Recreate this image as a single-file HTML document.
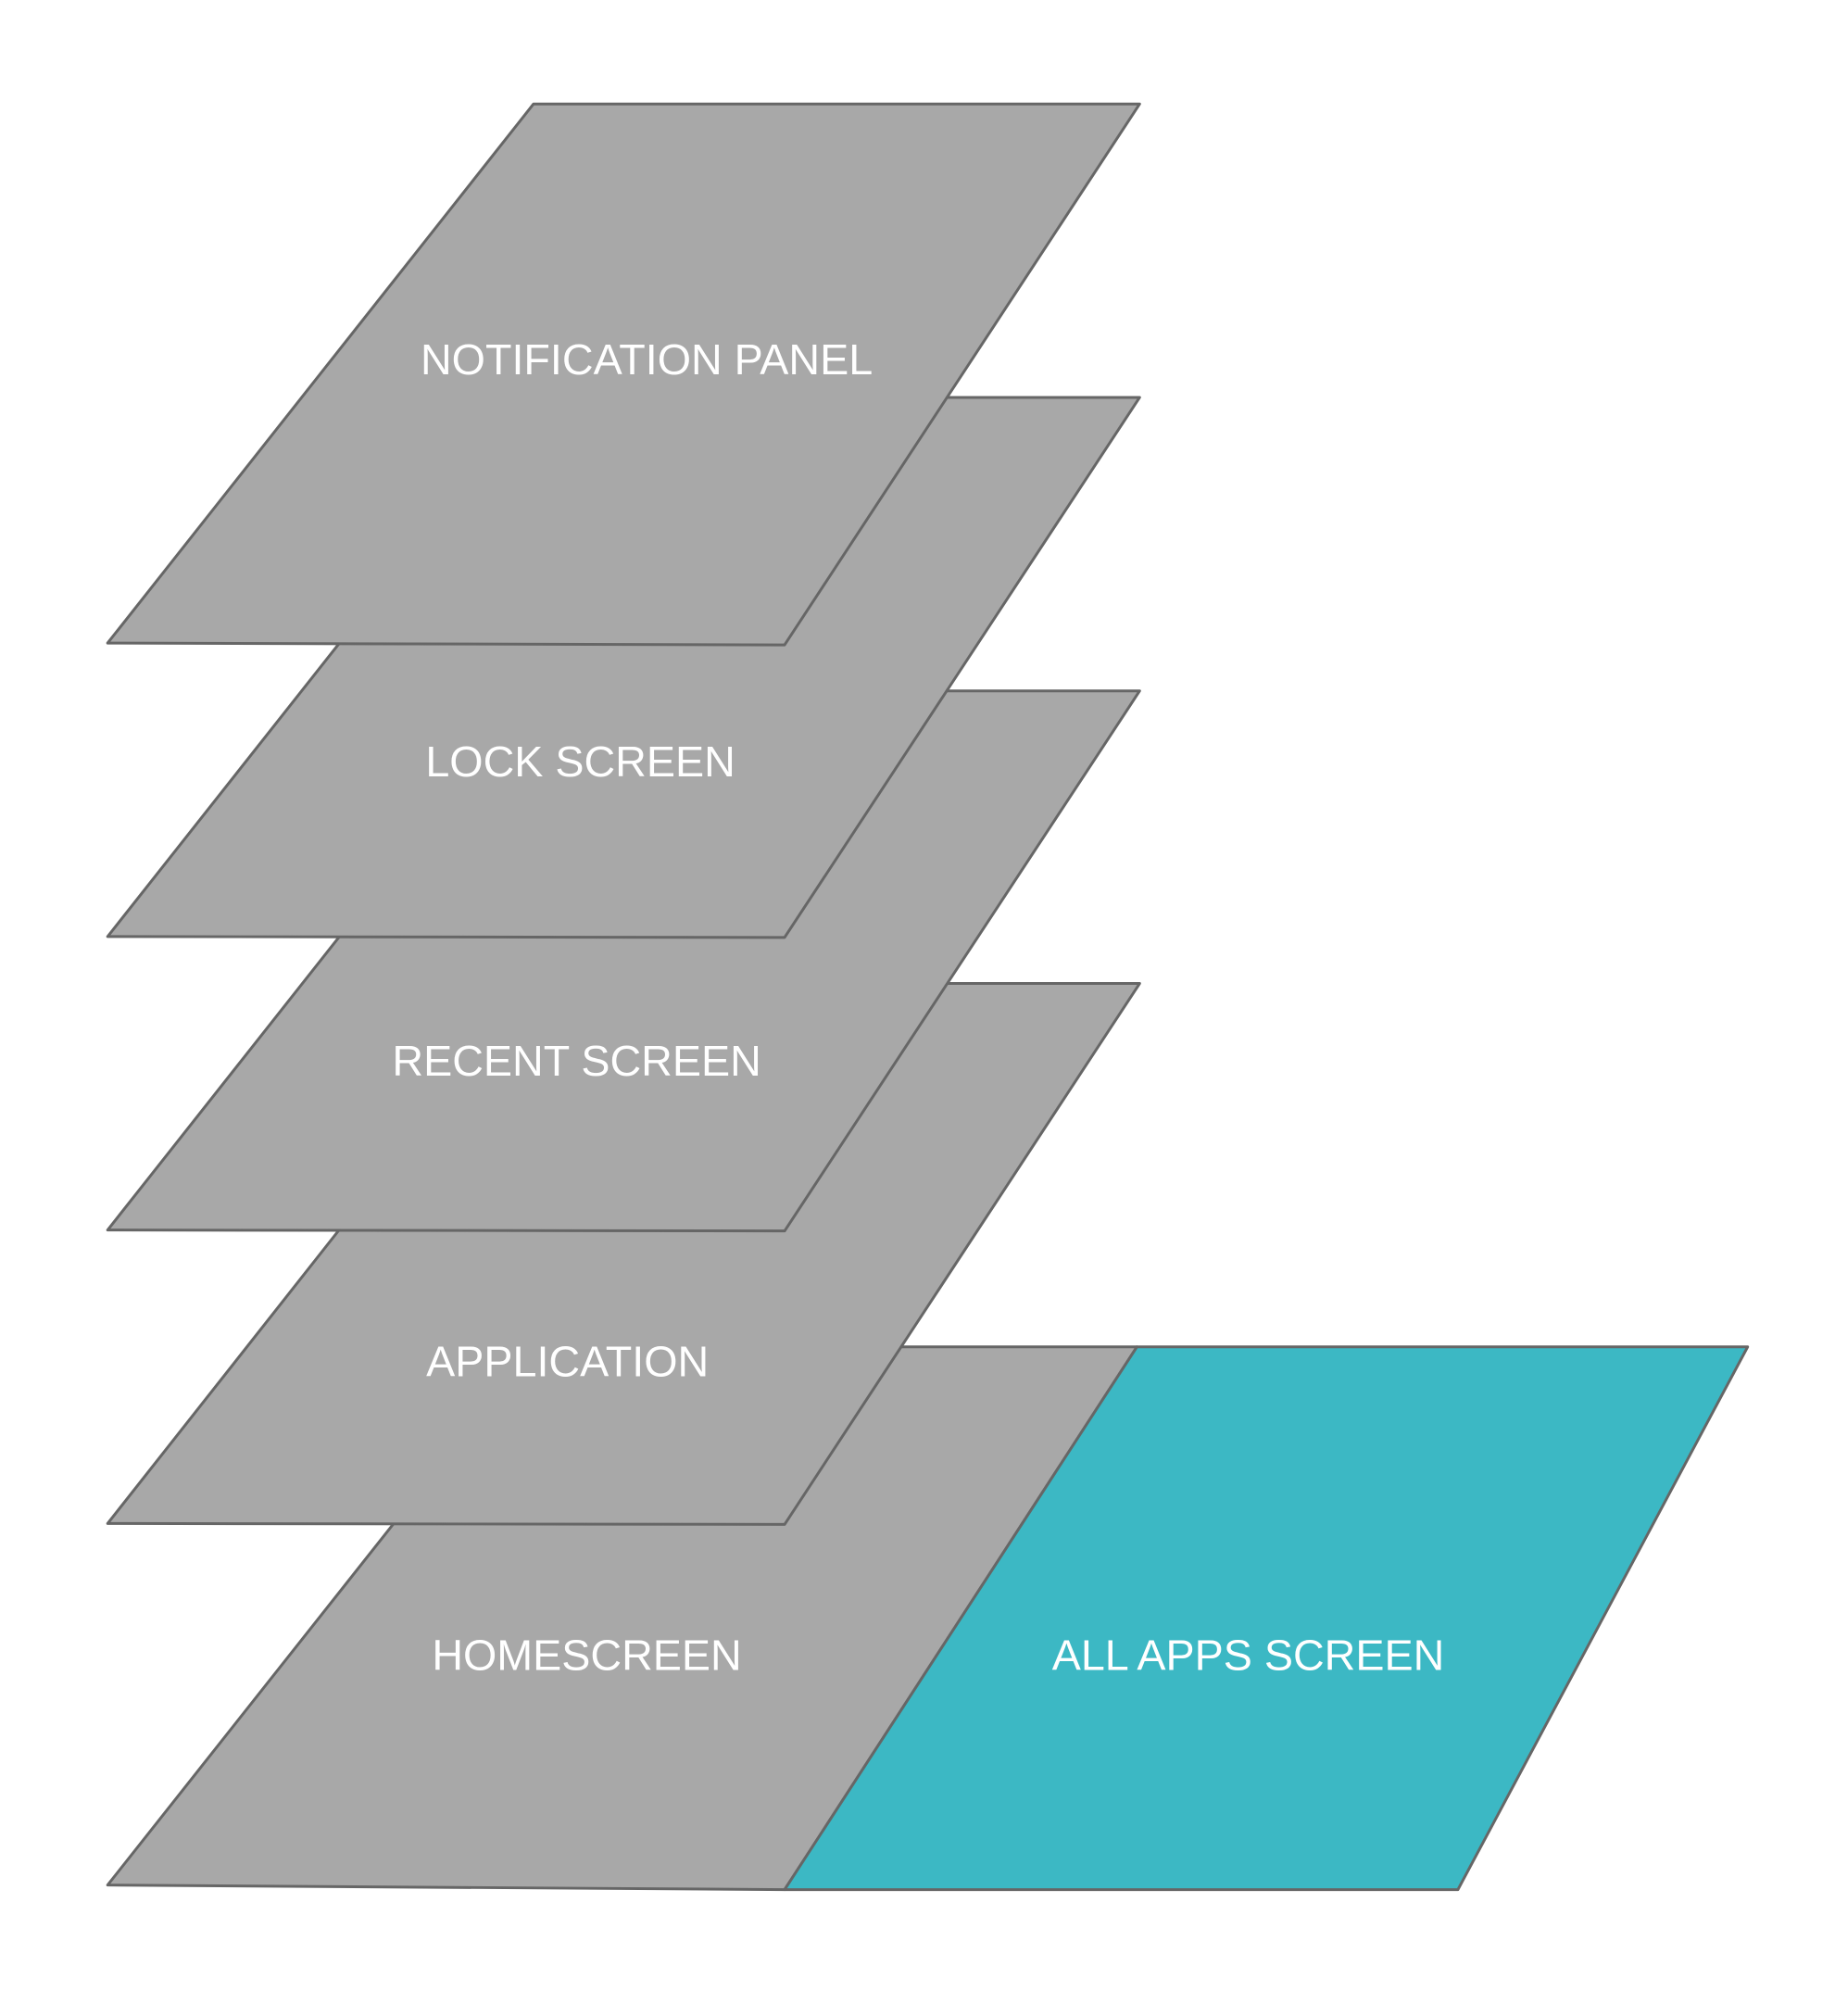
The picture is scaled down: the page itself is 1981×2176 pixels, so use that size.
<!DOCTYPE html>
<html><head><meta charset="utf-8"><style>html,body{margin:0;padding:0;background:#fff}</style></head>
<body>
<svg width="1981" height="2176" viewBox="0 0 1981 2176" xmlns="http://www.w3.org/2000/svg" style="display:block">
<g transform="scale(0.993)">
<g stroke="#666" stroke-width="3" stroke-linejoin="round">
<polygon points="580,1464 1236,1464 853,2054 117,2049" fill="#a8a8a8"/>
<polygon points="1236,1464 1900,1464 1585,2054 853,2054" fill="#3cb8c4"/>
<polygon points="580,1069 1239,1069 853,1657 117,1656" fill="#a8a8a8"/>
<polygon points="580,751 1239,751 853,1338 117,1337" fill="#a8a8a8"/>
<polygon points="580,432 1239,432 853,1019 117,1018" fill="#a8a8a8"/>
<polygon points="580,113 1239,113 853,701 117,699" fill="#a8a8a8"/>
</g>
<g fill="#fff" font-family="Liberation Sans, sans-serif" font-size="47" text-anchor="middle">
<text x="703" y="407">NOTIFICATION PANEL</text>
<text x="631" y="844">LOCK SCREEN</text>
<text x="627" y="1169">RECENT SCREEN</text>
<text x="617" y="1496">APPLICATION</text>
<text x="638" y="1815">HOMESCREEN</text>
<text x="1357" y="1815">ALL APPS SCREEN</text>
</g>
</g>
</svg>
</body></html>
